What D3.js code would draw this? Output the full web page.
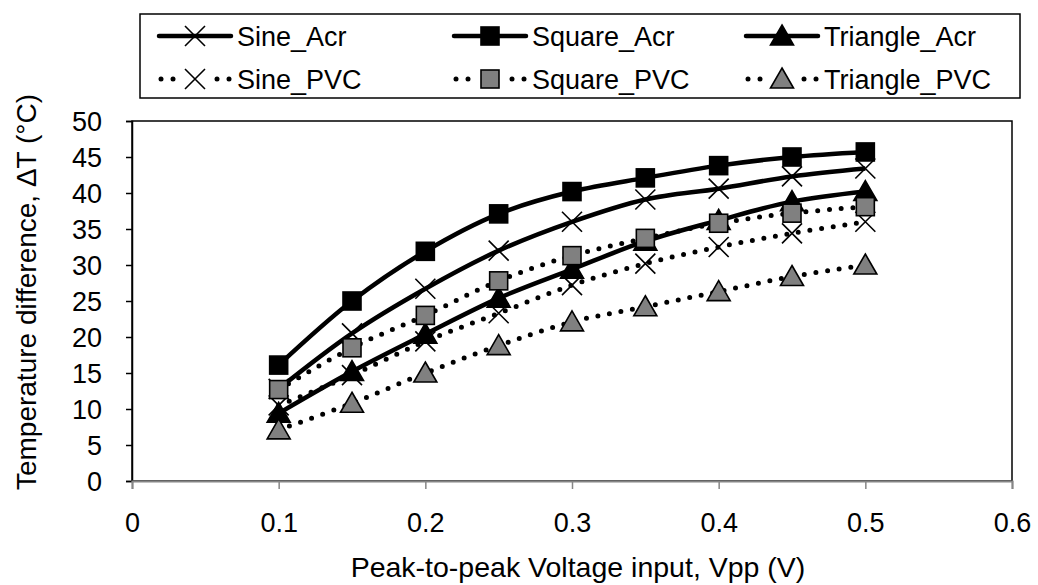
<!DOCTYPE html>
<html><head><meta charset="utf-8">
<script src="https://cdn.jsdelivr.net/npm/d3@7"></script>
<style>html,body{margin:0;padding:0;background:#fff;}svg{display:block;font-family:"Liberation Sans",Arial,sans-serif;}</style>
</head><body>
<svg id="chart" width="1038" height="585"></svg>
<script>
const vpp = [0.1, 0.15, 0.2, 0.25, 0.3, 0.35, 0.4, 0.45, 0.5];
const sineAcr = [12.8, 20.5, 26.7, 32.0, 36.0, 39.1, 40.6, 42.3, 43.4];
const squareAcr = [16.1, 25.0, 31.9, 37.1, 40.2, 42.1, 43.8, 45.0, 45.7];
const triangleAcr = [9.4, 15.2, 20.4, 25.4, 29.4, 33.3, 36.2, 38.8, 40.2];
const sinePVC = [10.5, 14.7, 19.4, 23.3, 27.2, 30.2, 32.5, 34.4, 36.0];
const squarePVC = [12.7, 18.5, 23.0, 27.8, 31.3, 33.7, 35.8, 37.2, 38.1];
const trianglePVC = [7.1, 10.8, 15.0, 18.8, 22.1, 24.2, 26.3, 28.4, 30.0];
const seriesNames = ["Sine_Acr", "Square_Acr", "Triangle_Acr", "Sine_PVC", "Square_PVC", "Triangle_PVC"];
const xTicks = [0, 0.1, 0.2, 0.3, 0.4, 0.5, 0.6];
const yTicks = [0, 5, 10, 15, 20, 25, 30, 35, 40, 45, 50];
const xTitle = "Peak-to-peak Voltage input, Vpp (V)";
const yTitle = "Temperature difference, ΔT (°C)";

const series = [
  {name: seriesNames[0], values: sineAcr, marker: "x", dotted: false},
  {name: seriesNames[1], values: squareAcr, marker: "square", fill: "#000", dotted: false},
  {name: seriesNames[2], values: triangleAcr, marker: "triangle", fill: "#000", dotted: false},
  {name: seriesNames[3], values: sinePVC, marker: "x", dotted: true},
  {name: seriesNames[4], values: squarePVC, marker: "square", fill: "#808080", dotted: true},
  {name: seriesNames[5], values: trianglePVC, marker: "triangle", fill: "#808080", dotted: true}
];

const svg = d3.select("#chart");
const L = 132, R = 1012, T = 121, B = 481;
const x = d3.scaleLinear().domain([0, 0.6]).range([L, R]);
const y = d3.scaleLinear().domain([0, 50]).range([B, T]);

// plot border
svg.append("rect").attr("x", L).attr("y", T).attr("width", R - L).attr("height", B - T)
  .attr("fill", "none").attr("stroke", "#000").attr("stroke-width", 1.5);

// y axis
const yAxis = svg.append("g").attr("transform", `translate(${L},0)`)
  .call(d3.axisLeft(y).tickValues(yTicks).tickSize(6).tickPadding(24).tickFormat(d3.format("d")));
yAxis.select(".domain").attr("stroke", "#000").attr("stroke-width", 1.5);
yAxis.selectAll(".tick line").attr("stroke", "#000").attr("stroke-width", 1.5);
yAxis.selectAll(".tick text").attr("font-size", 27).attr("fill", "#000").attr("dy", "0.36em");

// x axis
const xAxis = svg.append("g").attr("transform", `translate(0,${B})`)
  .call(d3.axisBottom(x).tickValues(xTicks).tickSize(8).tickPadding(24).tickFormat(d => d === 0 ? "0" : d3.format(".1f")(d)));
xAxis.select(".domain").attr("stroke", "#868686").attr("stroke-width", 2);
xAxis.selectAll(".tick line").attr("stroke", "#868686").attr("stroke-width", 1.5);
xAxis.selectAll(".tick text").attr("font-size", 27).attr("fill", "#000");

// titles
svg.append("text").attr("x", 578).attr("y", 577).attr("text-anchor", "middle")
  .attr("font-size", 28.5).attr("fill", "#000").text(xTitle);
svg.append("text").attr("transform", `translate(36,292) rotate(-90)`)
  .attr("text-anchor", "middle").attr("font-size", 28).attr("fill", "#000").text(yTitle);

function drawMarker(g, type, fill, cx, cy) {
  if (type === "square") {
    g.append("rect").attr("x", cx - 9).attr("y", cy - 9).attr("width", 18).attr("height", 18)
      .attr("fill", fill).attr("stroke", "#000").attr("stroke-width", 1.6);
  } else if (type === "triangle") {
    g.append("path").attr("d", `M${cx},${cy - 11}L${cx + 11.5},${cy + 9}L${cx - 11.5},${cy + 9}Z`)
      .attr("fill", fill).attr("stroke", "#000").attr("stroke-width", 1.6);
  } else {
    const s = 10;
    g.append("path").attr("d", `M${cx - s},${cy - s}L${cx + s},${cy + s}M${cx + s},${cy - s}L${cx - s},${cy + s}`)
      .attr("fill", "none").attr("stroke", "#000").attr("stroke-width", 1.6);
  }
}

const line = d3.line().x(d => x(d[0])).y(d => y(d[1])).curve(d3.curveCatmullRom.alpha(0.5));

series.forEach(s => {
  const g = svg.append("g");
  const pts = vpp.map((v, i) => [v, s.values[i]]);
  const p = g.append("path").attr("d", line(pts)).attr("fill", "none").attr("stroke", "#000");
  if (s.dotted) {
    p.attr("stroke-width", 5).attr("stroke-linecap", "round").attr("stroke-dasharray", "0 11.7");
  } else {
    p.attr("stroke-width", 4.5).attr("stroke-linejoin", "round");
  }
  pts.forEach(d => drawMarker(g, s.marker, s.fill, x(d[0]), y(d[1])));
});

// legend
const lg = svg.append("g");
lg.append("rect").attr("x", 140).attr("y", 14).attr("width", 880).attr("height", 84)
  .attr("fill", "#fff").attr("stroke", "#000").attr("stroke-width", 1.5);
const colLine = [159, 454, 746];
const rowY = [36, 79];
series.forEach((s, i) => {
  const col = i % 3, row = Math.floor(i / 3);
  const x0 = colLine[col], x1 = x0 + 72, cy = rowY[row];
  const g = lg.append("g");
  if (s.dotted) {
    [x0 + 2, x0 + 14, x1 - 14, x1 - 2].forEach(cx =>
      g.append("circle").attr("cx", cx).attr("cy", cy).attr("r", 2.5).attr("fill", "#000"));
  } else {
    g.append("line").attr("x1", x0).attr("x2", x1).attr("y1", cy).attr("y2", cy)
      .attr("stroke", "#000").attr("stroke-width", 4.5).attr("stroke-linecap", "round");
  }
  drawMarker(g, s.marker, s.fill, (x0 + x1) / 2, cy);
  g.append("text").attr("x", x1 + 6).attr("y", cy).attr("dy", "0.36em")
    .attr("font-size", 27).attr("fill", "#000").text(s.name);
});
</script>
</body></html>
